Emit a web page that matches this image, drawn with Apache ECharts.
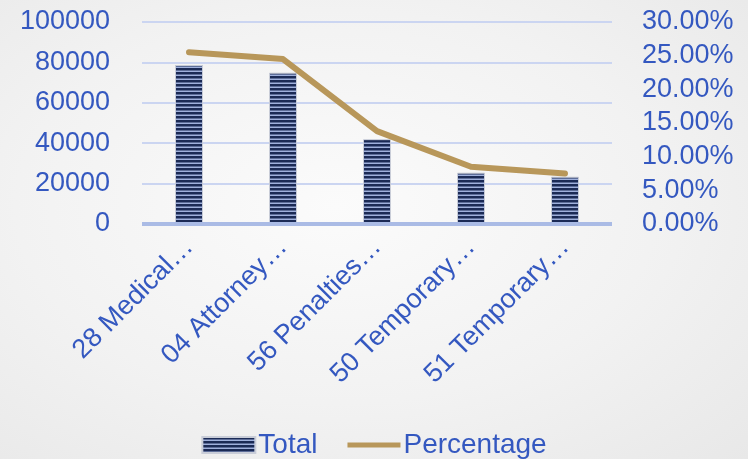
<!DOCTYPE html>
<html>
<head>
<meta charset="utf-8">
<script src="https://cdn.jsdelivr.net/npm/echarts@6/dist/echarts.min.js"></script>
<style>
html,body{margin:0;padding:0;}
#c{width:748px;height:459px;background:radial-gradient(ellipse at 45% 45%, #fbfbfb 0%, #f2f2f2 55%, #e8e8e8 100%);}
</style>
</head>
<body>
<div id="c"></div>
<script>
const categories = ['28 Medical…', '04 Attorney…', '56 Penalties…', '50 Temporary…', '51 Temporary…'];
const totalValues = [78700, 74900, 42000, 25400, 23400];
const percentValues = [0.255, 0.245, 0.138, 0.085, 0.075];

function stripes() {
  const cv = document.createElement('canvas');
  cv.width = 8; cv.height = 4;
  const g = cv.getContext('2d');
  g.fillStyle = '#1b2a55'; g.fillRect(0, 0, 8, 4);
  g.fillStyle = '#9fb0dc'; g.fillRect(0, 2.5, 8, 1.5);
  return cv;
}
const pat = { image: stripes(), repeat: 'repeat' };
const blue = '#3458c0';
const font = 'Liberation Sans';

const chart = echarts.init(document.getElementById('c'));
chart.setOption({
  animation: false,
  grid: { left: 142, right: 136, top: 22, bottom: 235 },
  legend: {
    bottom: -5, left: 'center',
    itemWidth: 53, itemHeight: 16, itemGap: 30,
    textStyle: { color: blue, fontSize: 28, fontFamily: font, padding: [0, 0, 0, -2] },
    data: [
      { name: 'Total', icon: 'rect' },
      { name: 'Percentage', icon: 'path://M0,0L53,0L53,5L0,5Z', itemStyle: { color: '#b8975a' } }
    ]
  },
  xAxis: {
    type: 'category', data: categories,
    axisLine: { show: false },
    axisTick: { show: false },
    axisLabel: { rotate: 45, color: blue, fontSize: 27, fontFamily: font, margin: 19, interval: 0 }
  },
  yAxis: [
    {
      type: 'value', min: 0, max: 100000, interval: 20000,
      axisLine: { show: false }, axisTick: { show: false },
      axisLabel: { color: blue, fontSize: 27, fontFamily: font, margin: 32, formatter: v => String(v) },
      splitLine: { lineStyle: { color: '#cbd5f1', width: 2 } }
    },
    {
      type: 'value', min: 0, max: 0.3, interval: 0.05,
      axisLine: { show: false }, axisTick: { show: false },
      splitLine: { show: false },
      axisLabel: { color: blue, fontSize: 27, fontFamily: font, margin: 30,
        formatter: v => (v * 100).toFixed(2) + '%' }
    }
  ],
  series: [
    {
      name: 'Total', type: 'bar', data: totalValues, barWidth: 28,
      itemStyle: { color: pat, borderColor: '#c9cdd8', borderWidth: 1 },
      markLine: {
        silent: true, symbol: 'none', label: { show: false },
        lineStyle: { color: '#aabbe5', width: 4, type: 'solid' },
        data: [{ yAxis: 0 }]
      }
    },
    {
      name: 'Percentage', type: 'line', yAxisIndex: 1, data: percentValues,
      symbol: 'none',
      lineStyle: { color: '#b8975a', width: 6, cap: 'round', join: 'round' },
      itemStyle: { color: '#b8975a' }
    }
  ]
});
</script>
</body>
</html>
